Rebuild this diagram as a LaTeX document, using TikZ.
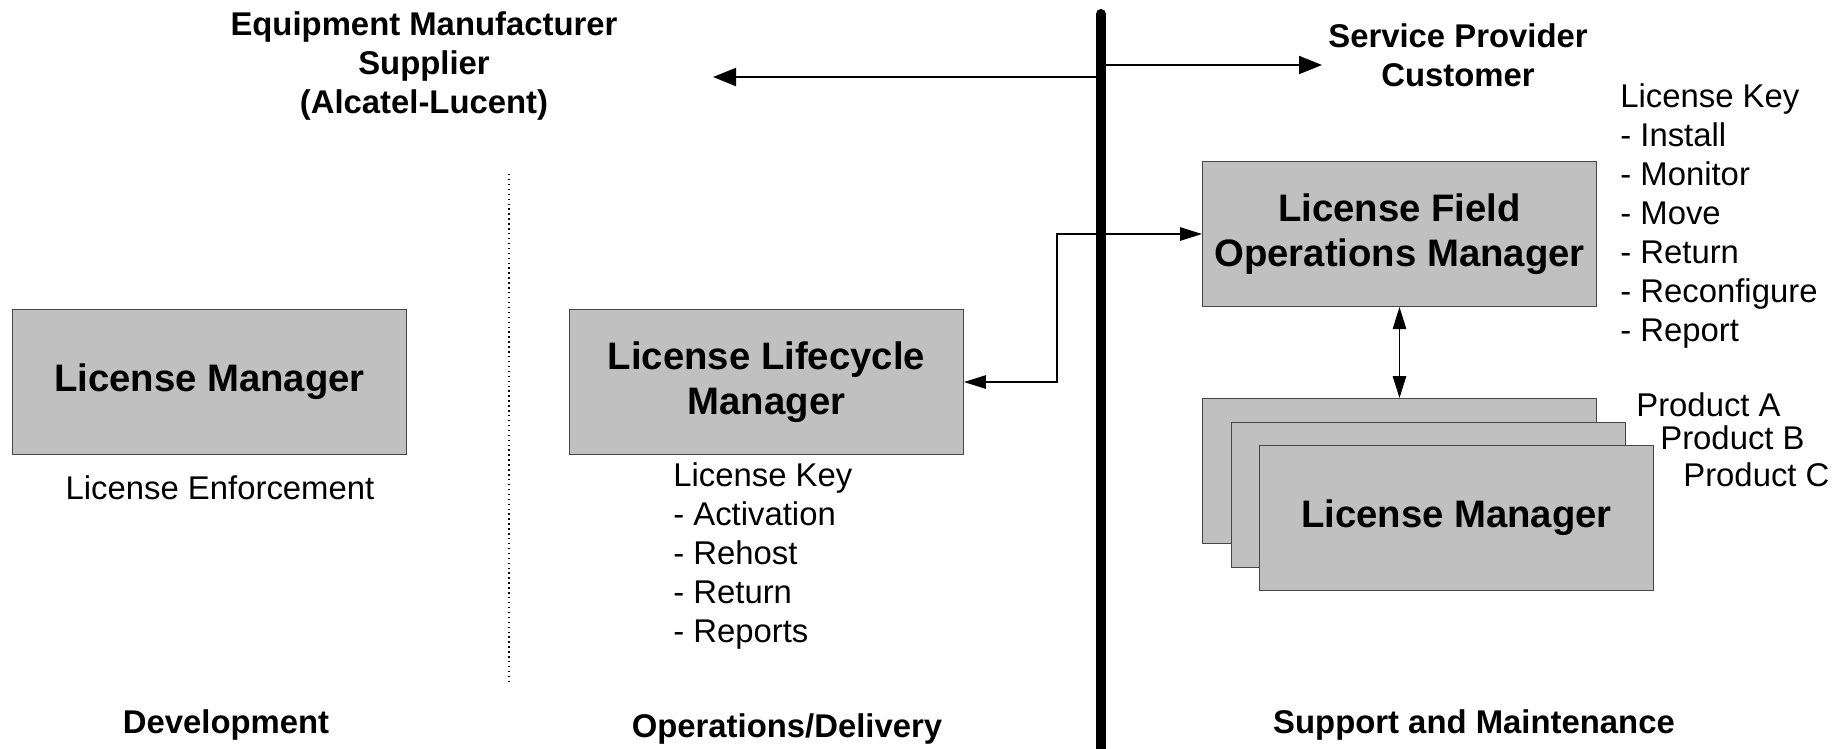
\documentclass[tikz,border=0pt]{standalone}
\usepackage{fontspec}
\setmainfont{Liberation Sans}
\usetikzlibrary{arrows.meta,calc}
\definecolor{boxgray}{RGB}{192,192,192}
\definecolor{edgegray}{RGB}{70,70,70}
\tikzset{
  box/.style={draw=edgegray, fill=boxgray, line width=0.6pt, minimum width=7.88cm, minimum height=2.9cm,
    anchor=north west, align=center, inner sep=0pt, font=\bfseries\fontsize{21.8}{25.6}\selectfont},
  plain/.style={inner sep=0pt, font=\fontsize{18.7}{22.2}\selectfont, align=left},
  head/.style={inner sep=0pt, font=\bfseries\fontsize{18.7}{22.2}\selectfont, align=center},
  conn/.style={line width=0.6pt, {Triangle[length=0.44cm,width=0.27cm]}-{Triangle[length=0.44cm,width=0.27cm]}},
  toparr/.style={line width=1.1pt, -{Triangle[length=0.46cm,width=0.36cm]}},
  divider/.style={line width=0.2cm, line cap=round},
}
\begin{document}
\begin{tikzpicture}[x=0.02cm, y=-0.02cm]
\useasboundingbox (0,0) rectangle (1847,748);
% headers
\node[head] (sup) at (424,66) {Equipment Manufacturer\\Supplier\\(Alcatel-Lucent)};
\node[head] (cust) at (1458,55) {Service Provider\\Customer};
% divider
\coordinate (divtop) at (1101,14);
\coordinate (divbot) at (1101,760);
\draw[divider] (divtop) -- (divbot);
\coordinate (lefttip) at (713,77);
\coordinate (righttip) at (1322,65);
\draw[toparr] (divtop |- lefttip) -- (lefttip);
\draw[toparr] (divtop |- righttip) -- (righttip);
% dotted separator
\coordinate (dtop) at (509,174);
\coordinate (dbot) at (509,683);
\draw[dotted, line width=0.8pt] (dtop) -- (dbot);
% boxes
\node[box] (lm) at (12,309) {License Manager};
\node[box] (llm) at (569,309) {License Lifecycle\\Manager};
\node[box] (lfom) at (1202,161) {License Field\\Operations Manager};
\node[box] (s1) at (1202,398) {};
\node[box] (s2) at (1231,422) {};
\node[box] (s3) at (1259,445) {License Manager};
% connectors
\coordinate (bend) at (1057,300);
\draw[conn] (llm.east) -- (llm.east -| bend) |- (lfom.west);
\draw[conn] (lfom.south) -- (s1.north);
% text
\node[plain, anchor=west] (rkey) at (1620,216) {License Key\\- Install\\- Monitor\\- Move\\- Return\\- Reconfigure\\- Report};
\node[plain, anchor=west] (mkey) at (673,556) {License Key\\- Activation\\- Rehost\\- Return\\- Reports};
\node[plain] (enf) at (220,488) {License Enforcement};
\node[plain, anchor=west] (pa) at (1636,405) {Product A};
\node[plain, anchor=west] (pb) at (1660,438) {Product B};
\node[plain, anchor=west] (pc) at (1683,475) {Product C};
\node[head] (dev) at (226,725) {Development};
\node[head] (ops) at (787,729) {Operations/Delivery};
\node[head] (supm) at (1474,725) {Support and Maintenance};
\end{tikzpicture}
\end{document}
